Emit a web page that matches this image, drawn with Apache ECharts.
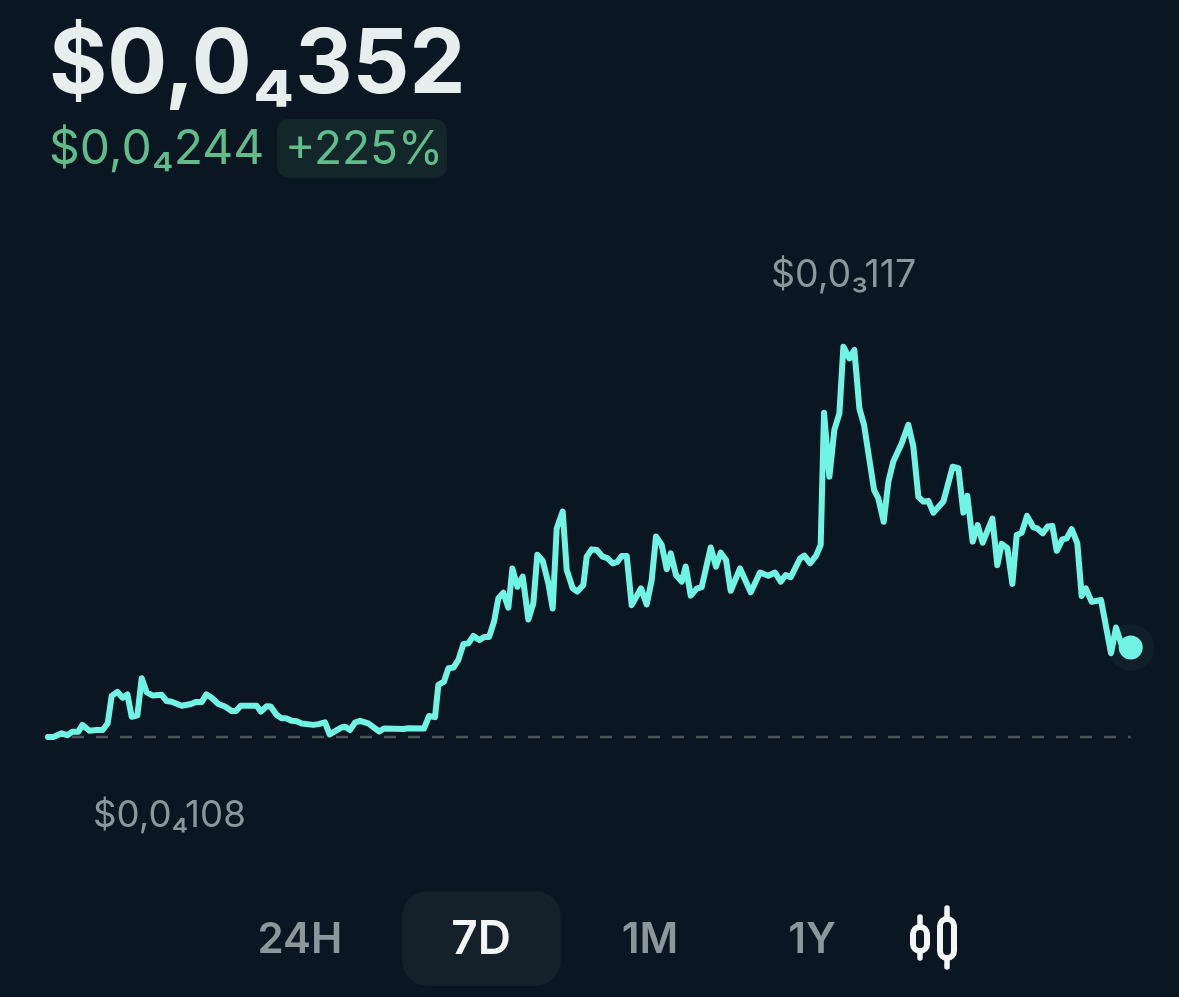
<!DOCTYPE html>
<html>
<head>
<meta charset="utf-8">
<style>html,body{margin:0;padding:0;background:#0a1722}#c{width:1179px;height:997px}</style>
<script src="https://cdn.jsdelivr.net/npm/echarts@6/dist/echarts.min.js"></script>
</head>
<body>
<div id="c"></div>
<script>
// price in units of 1e-7 USD; time in hours over the 7D window
const hours = [0,0.83,2.12,3,3.77,4.7,5.32,6.41,7.54,8.47,9.25,9.87,10.75,11.57,12.3,12.97,13.85,14.52,15.29,16.17,17.62,18.39,19.17,20.72,22.16,22.89,23.81,24.54,25.37,26.4,27.43,28.46,29.14,29.86,32.34,33.01,33.89,34.51,35.44,36.21,36.88,37.76,38.54,39.31,41.12,41.9,42.93,43.65,45.51,46.03,46.8,47.58,48.35,49.64,51.35,52.07,55.07,55.85,58.27,59.05,59.98,60.5,61.38,62.05,62.83,63.6,64.38,65.15,65.93,66.86,67.58,68.35,69.13,69.8,70.57,71.35,71.97,72.74,73.57,74.45,75.22,75.84,76.67,77.55,78.22,78.84,79.77,80.39,81.32,82.04,82.97,83.49,84.26,85.04,85.97,86.69,87.52,88.24,88.91,89.69,90.46,91.91,92.79,93.56,94.23,95.11,95.89,96.51,97.33,98.21,98.83,99.61,100.54,101.31,102.71,103.53,104.26,105.08,105.81,107.25,108.91,110.35,111.64,112.68,113.56,114.33,115.11,116.55,117.22,118.1,119.03,119.75,120.27,121.1,121.87,122.65,123.27,124.2,124.97,125.75,126.47,128.02,128.69,129.52,130.24,131.01,132.31,133.34,134.11,134.89,135.66,136.44,137.21,138.76,140.21,141.09,141.86,142.48,143.31,144.08,144.86,146.36,147.13,147.8,148.68,149.46,150.13,150.9,151.73,152.71,153.33,154.16,154.93,155.66,156.33,157.21,157.88,158.65,159.53,160.2,160.82,161.75,163.2,164.75,165.52,166.4,167.8];
const prices = [108,108,118,113,122,122,141,125,127,127,145,220,231,215,224,163,167,268,230,221,223,206,204,193,198,203,203,224,215,198,191,179,179,193,193,177,192,191,168,159,159,152,151,145,141,143,148,115,134,136,127,147,152,145,123,131,130,132,131,165,162,250,259,295,297,318,361,363,383,372,380,380,422,486,501,460,567,517,545,428,472,604,588,526,458,676,722,563,513,504,522,599,619,617,599,595,581,585,601,601,467,513,469,535,654,631,565,608,549,531,572,493,512,516,624,572,610,590,506,567,502,556,547,556,531,549,543,594,602,581,601,631,991,817,944,989,1171,1139,1162,1003,958,781,758,694,803,858,908,958,899,762,749,751,719,749,844,840,719,765,640,685,637,703,576,634,622,525,658,664,710,679,676,663,681,683,615,646,649,674,635,492,513,476,481,336,406,358,352];
const baseline = 108;
const peak = 1170;
const priceNow = '$0,0₄352';
const priceChange = '$0,0₄244';
const percentChange = '+225%';
const highLabel = '$0,0₃117';
const lowLabel = '$0,0₄108';
const ranges = ['24H','7D','1M','1Y'];

const BG='#0a1722', LINE='#70f5e4', GREY='#8b979d', GREEN='#5fbd8c';
const FF='Inter, "Noto Sans", sans-serif';
const txt=(text,x,y,size,weight,fill,align)=>({type:'text',z:10,style:{text,x,y,fill,align:align||'left',verticalAlign:'middle',font:`${weight} ${size}px ${FF}`}});
const candle=(cx,y0,y1,b0,b1)=>[
 {type:'line',z:10,shape:{x1:cx,y1:y0,x2:cx,y2:y1},style:{stroke:'#f2f6f7',lineWidth:5.5,lineCap:'round'}},
 {type:'rect',z:11,shape:{x:cx-7,y:b0,width:14,height:b1-b0,r:7},style:{fill:BG,stroke:'#f2f6f7',lineWidth:6}}
];

const chart=echarts.init(document.getElementById('c'),null,{renderer:'canvas'});
chart.setOption({
 animation:false,
 backgroundColor:BG,
 grid:{left:48,top:347,width:1084,height:390},
 xAxis:{type:'value',min:0,max:168,show:false},
 yAxis:{type:'value',min:baseline,max:peak,show:false},
 series:[
  {type:'line',data:hours.map((h,i)=>[h,baseline]),showSymbol:false,silent:true,clip:false,z:1,
   lineStyle:{color:'#4b5359',width:2.4,type:[12,12]}},
  {type:'scatter',data:[[hours[hours.length-1],prices[prices.length-1]]],symbolSize:47,clip:false,z:2,
   itemStyle:{color:'#101f29',opacity:1}},
  {type:'line',data:hours.map((h,i)=>[h,prices[i]]),showSymbol:false,clip:false,z:3,
   lineStyle:{color:LINE,width:6,join:'round',cap:'round'}},
  {type:'scatter',data:[[hours[hours.length-1],prices[prices.length-1]]],symbolSize:24,clip:false,z:4,
   itemStyle:{color:LINE,opacity:1}}
 ],
 graphic:[
  txt(priceNow,49,66,89,700,'#e6eeee'),
  txt(priceChange,49,150,48,400,GREEN),
  {type:'rect',z:9,shape:{x:277,y:119,width:170,height:59,r:12},style:{fill:'#13262a'}},
  txt(percentChange,285,150,46,400,GREEN),
  txt(highLabel,771,276,37.5,400,GREY),
  txt(lowLabel,93,816,36.7,400,GREY),
  {type:'rect',z:9,shape:{x:402,y:891,width:159,height:95,r:26},style:{fill:'#14212a'}},
  txt(ranges[0],300,940,42,600,GREY,'center'),
  txt(ranges[1],481,940,46,600,'#f2f6f7','center'),
  txt(ranges[2],650,940,42,600,GREY,'center'),
  txt(ranges[3],812,940,42,600,GREY,'center'),
  ...candle(920,917,958,927,951),
  ...candle(947,908,967,919,958)
 ]
});
</script>
</body>
</html>
